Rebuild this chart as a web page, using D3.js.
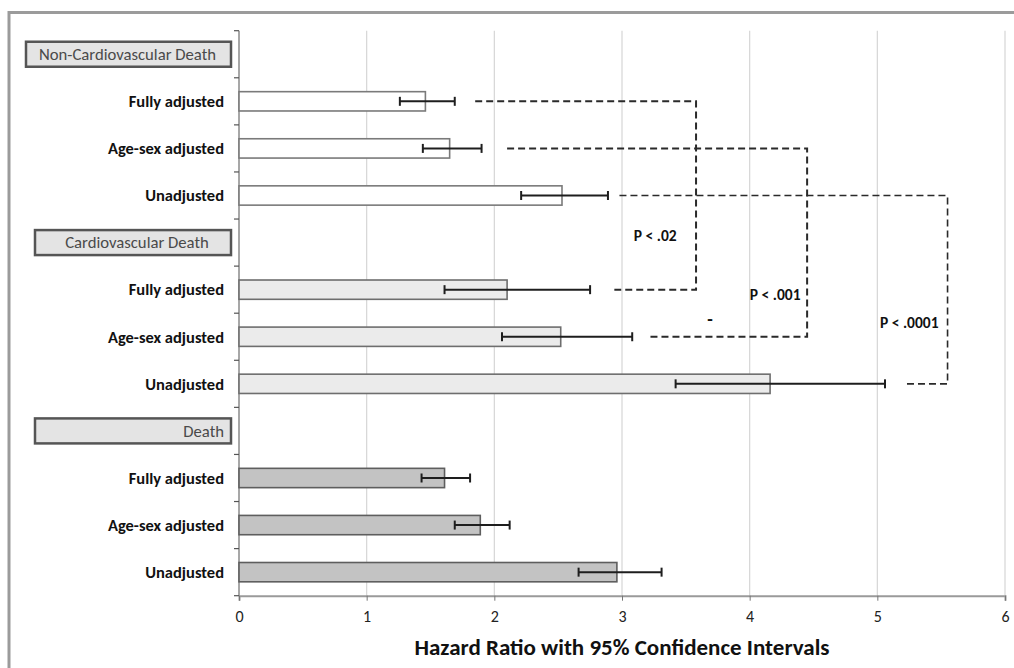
<!DOCTYPE html>
<html>
<head>
<meta charset="utf-8">
<title>Hazard ratios</title>
<script src="https://cdn.jsdelivr.net/npm/d3@7"></script>
<style>
body { margin: 0; background: #fff; }
svg text { font-family: Carlito, "Open Sans", sans-serif; }
</style>
</head>
<body>
<div id="chart"></div>
<script>
// outcome groups, top to bottom
var groups = ["Non-Cardiovascular Death", "Cardiovascular Death", "Death"];
var models = ["Fully adjusted", "Age-sex adjusted", "Unadjusted"];

// hazard ratio and 95% CI, one row per group, in models order
var hr    = [[1.46, 1.65, 2.53], [2.10, 2.52, 4.16], [1.61, 1.89, 2.96]];
var lower = [[1.26, 1.44, 2.21], [1.61, 2.06, 3.42], [1.43, 1.69, 2.66]];
var upper = [[1.69, 1.90, 2.89], [2.75, 3.08, 5.06], [1.81, 2.12, 3.31]];

var xTicks = [0, 1, 2, 3, 4, 5, 6];

// comparison brackets (row = slot index, x in hazard ratio units)
var brackets = [
  { top: 1, bottom: 5, topStart: 1.85, bottomStart: 2.94, side: 3.58, label: "P < .02",   labelX: 3.26, labelRow: 4.36 },
  { top: 2, bottom: 6, topStart: 2.10, bottomStart: 3.22, side: 4.45, label: "P < .001",  labelX: 4.20, labelRow: 5.61 },
  { top: 3, bottom: 7, topStart: 2.98, bottomStart: 5.23, side: 5.55, label: "P < .0001", labelX: 5.25, labelRow: 6.19 }
];

var fills   = ["#ffffff", "#ebebeb", "#c3c3c3"];
var strokes = ["#7a7a7a", "#6e6e6e", "#5e5e5e"];

// build slot list: a header slot then one per model
var rows = [];
groups.forEach(function (g, gi) {
  rows.push({ type: "header", group: gi, label: g });
  models.forEach(function (m, mi) {
    rows.push({ type: "bar", group: gi, label: m, hr: hr[gi][mi], lo: lower[gi][mi], hi: upper[gi][mi] });
  });
});
rows.forEach(function (r, i) { r.slot = i; });

var W = 1014, H = 668;
var svg = d3.select("#chart").append("svg").attr("width", W).attr("height", H);

var x = d3.scaleLinear().domain([0, 6]).range([239, 1005]);
var y = d3.scaleBand().domain(d3.range(rows.length)).range([30.7, 595.7])
  .paddingInner(0.59).paddingOuter(0.295);
var rowY = d3.scaleLinear().domain([0, rows.length]).range([30.7, 595.7]);
function mid(i) { return y(i) + y.bandwidth() / 2; }

// outer frame
svg.append("path")
  .attr("d", "M9," + H + " L9,12.5 L" + W + ",12.5")
  .attr("fill", "none").attr("stroke", "#9b9b9b").attr("stroke-width", 3);

// gridlines
svg.append("g").selectAll("line")
  .data(xTicks.filter(function (d) { return d > 0; }))
  .enter().append("line")
  .attr("x1", function (d) { return x(d); }).attr("x2", function (d) { return x(d); })
  .attr("y1", rowY(0)).attr("y2", rowY(rows.length))
  .attr("stroke", "#d6d6d6").attr("stroke-width", 1.2);

// x axis
var xAxis = svg.append("g")
  .attr("transform", "translate(0," + rowY(rows.length) + ")")
  .call(d3.axisBottom(x).tickValues(xTicks).tickSize(5).tickPadding(10).tickFormat(d3.format("d")));
xAxis.select(".domain").attr("stroke", "#9a9a9a").attr("stroke-width", 2);
xAxis.selectAll(".tick line").attr("stroke", "#777");
xAxis.selectAll(".tick text").attr("font-size", "16px").attr("fill", "#222")
  .style("font-family", "Carlito, 'Open Sans', sans-serif");

// y axis line with ticks at slot edges
svg.append("line")
  .attr("x1", x(0)).attr("x2", x(0))
  .attr("y1", rowY(0)).attr("y2", rowY(rows.length))
  .attr("stroke", "#8a8a8a").attr("stroke-width", 1.5);
svg.append("g").selectAll("line")
  .data(d3.range(rows.length + 1))
  .enter().append("line")
  .attr("x1", x(0) - 5).attr("x2", x(0))
  .attr("y1", function (d) { return rowY(d); }).attr("y2", function (d) { return rowY(d); })
  .attr("stroke", "#555").attr("stroke-width", 1.2);

var barRows = rows.filter(function (r) { return r.type === "bar"; });
var headRows = rows.filter(function (r) { return r.type === "header"; });

// bars
svg.append("g").selectAll("rect")
  .data(barRows)
  .enter().append("rect")
  .attr("x", x(0))
  .attr("y", function (d) { return y(d.slot); })
  .attr("width", function (d) { return x(d.hr) - x(0); })
  .attr("height", y.bandwidth())
  .attr("fill", function (d) { return fills[d.group]; })
  .attr("stroke", function (d) { return strokes[d.group]; })
  .attr("stroke-width", 1.6);

// error bars
var eb = svg.append("g").attr("stroke", "#1e1e1e").attr("stroke-width", 2);
barRows.forEach(function (d) {
  var cy = mid(d.slot);
  eb.append("line").attr("x1", x(d.lo)).attr("x2", x(d.hi)).attr("y1", cy).attr("y2", cy);
  [d.lo, d.hi].forEach(function (v) {
    eb.append("line").attr("x1", x(v)).attr("x2", x(v)).attr("y1", cy - 4.5).attr("y2", cy + 4.5);
  });
});

// row labels
svg.append("g").selectAll("text")
  .data(barRows)
  .enter().append("text")
  .attr("x", 224)
  .attr("y", function (d) { return mid(d.slot); })
  .attr("dy", "0.35em")
  .attr("text-anchor", "end")
  .attr("font-size", "16.5px").attr("font-weight", "bold").attr("fill", "#111")
  .text(function (d) { return d.label; });

// group header boxes
var boxLeft = [26, 35, 35];
var hg = svg.append("g");
headRows.forEach(function (d) {
  var cy = mid(d.slot);
  hg.append("rect")
    .attr("x", boxLeft[d.group]).attr("y", cy - 12.5)
    .attr("width", 231 - boxLeft[d.group]).attr("height", 25)
    .attr("fill", "#e4e4e4").attr("stroke", "#555").attr("stroke-width", 2.5);
  var last = d.group === groups.length - 1;
  hg.append("text")
    .attr("x", last ? 224 : (boxLeft[d.group] + 231) / 2 + (d.group === 1 ? 4 : -1))
    .attr("y", cy).attr("dy", "0.35em")
    .attr("text-anchor", last ? "end" : "middle")
    .attr("font-size", "16.7px").attr("fill", "#4a4a4a")
    .text(d.label);
});

// dashed comparison brackets
var bg = svg.append("g");
brackets.forEach(function (b, i) {
  var ty = mid(b.top), by = mid(b.bottom);
  bg.append("path")
    .attr("d", "M" + x(b.topStart) + "," + ty + " H" + x(b.side) + " V" + by + " H" + x(b.bottomStart))
    .attr("fill", "none").attr("stroke", "#2a2a2a")
    .attr("stroke-width", i === 2 ? 1.6 : 2)
    .attr("stroke-dasharray", "7,4");
  bg.append("text")
    .attr("x", x(b.labelX)).attr("y", rowY(b.labelRow)).attr("dy", "0.35em")
    .attr("text-anchor", "middle")
    .attr("font-size", "15.5px").attr("font-weight", "bold").attr("fill", "#111")
    .text(b.label);
});
bg.append("text")
  .attr("x", x(3.69)).attr("y", rowY(6.12)).attr("dy", "0.35em")
  .attr("text-anchor", "middle")
  .attr("font-size", "18px").attr("font-weight", "bold").attr("fill", "#111")
  .text("-");

// axis title
svg.append("text")
  .attr("x", x(3)).attr("y", 655)
  .attr("text-anchor", "middle")
  .attr("font-size", "23px").attr("font-weight", "bold").attr("fill", "#111")
  .text("Hazard Ratio with 95% Confidence Intervals");
</script>
</body>
</html>
